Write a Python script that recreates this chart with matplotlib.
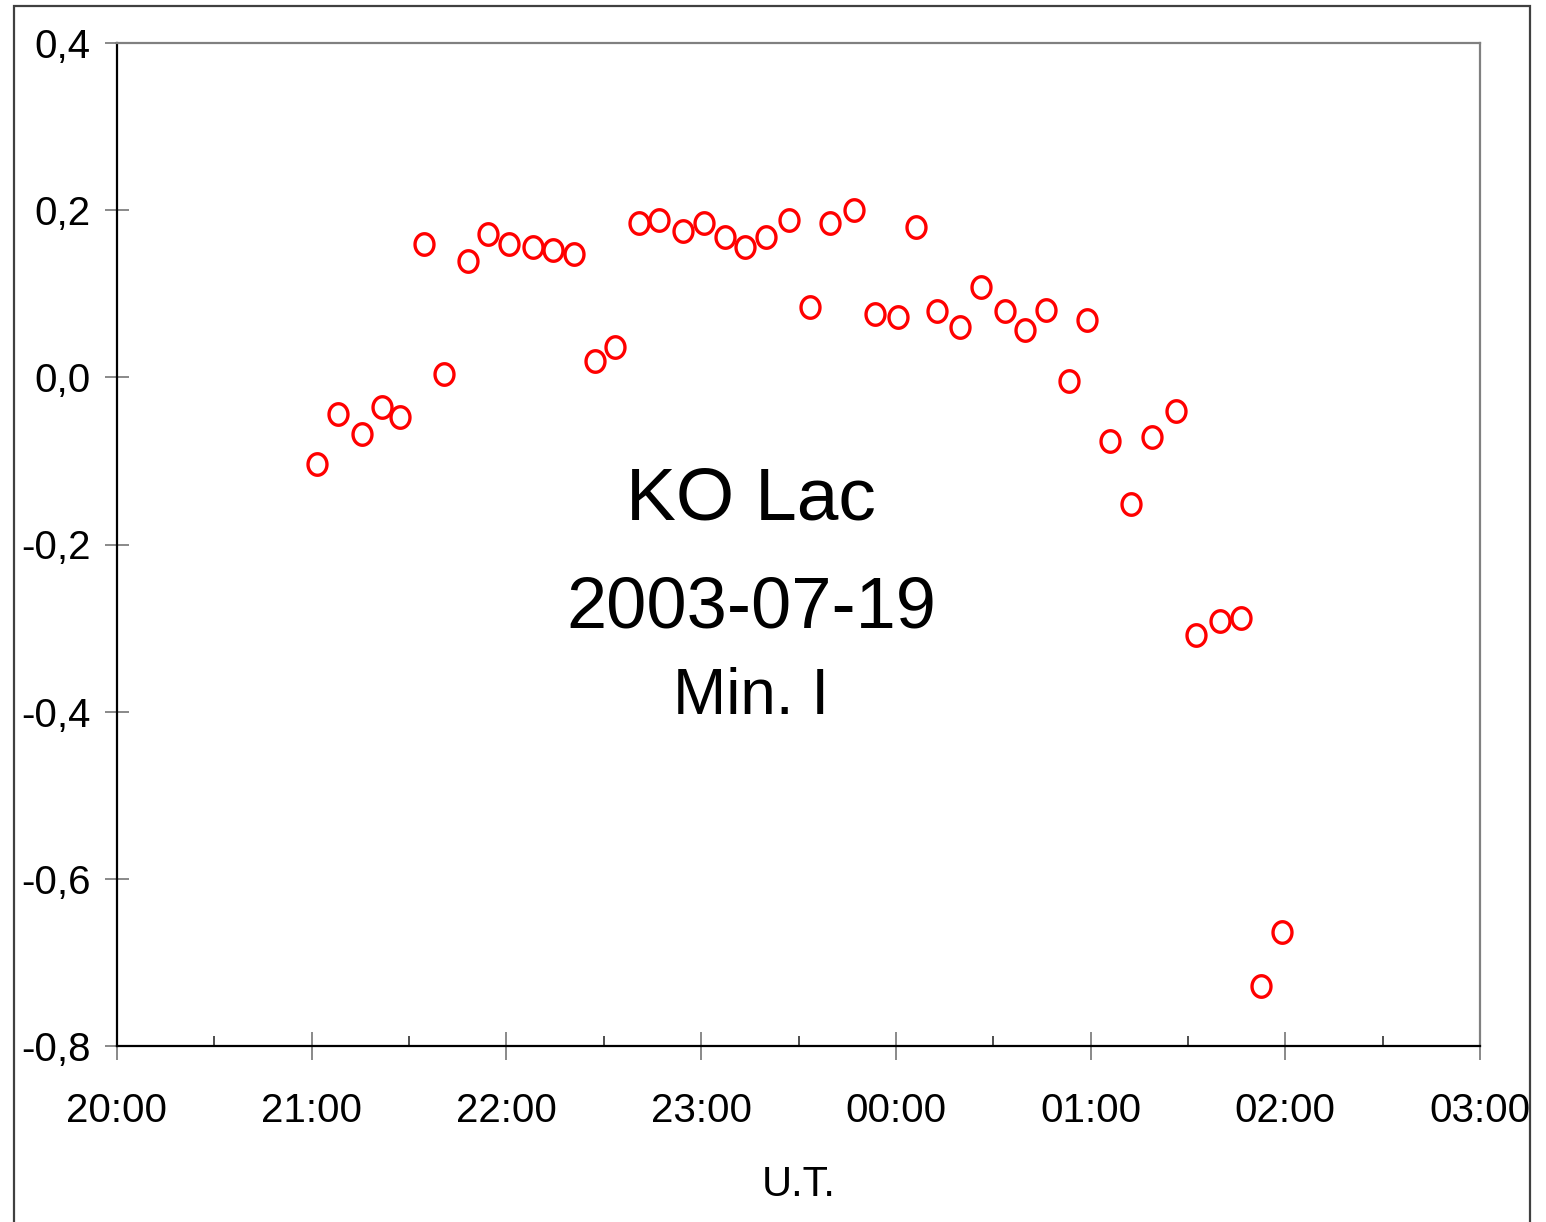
import matplotlib
matplotlib.use("Agg")
import matplotlib.pyplot as plt
import numpy as np
from matplotlib.path import Path
from matplotlib.patches import Rectangle
from matplotlib.ticker import MultipleLocator, FuncFormatter

# ---- data (minutes after 20:00 UT, magnitude difference) ----
minutes = [61.6, 68.1, 75.5, 81.7, 87.2, 94.6, 100.8, 108.2, 114.4, 120.8,
           128.2, 134.3, 140.8, 147.3, 153.5, 160.9, 167.0, 174.4, 180.9, 187.4,
           193.5, 200.0, 207.1, 213.5, 219.7, 227.1, 233.6, 240.7, 246.2, 252.7,
           259.8, 266.3, 273.7, 279.8, 286.3, 293.4, 298.9, 306.0, 312.5, 319.0,
           326.3, 332.5, 339.9, 346.4, 352.6, 359.0]
delta_mag = [-0.104, -0.044, -0.068, -0.036, -0.048, 0.160, 0.004, 0.139, 0.171, 0.160,
             0.156, 0.152, 0.148, 0.020, 0.036, 0.185, 0.188, 0.175, 0.185, 0.168,
             0.156, 0.168, 0.188, 0.084, 0.185, 0.200, 0.076, 0.072, 0.180, 0.079,
             0.060, 0.108, 0.079, 0.057, 0.080, -0.004, 0.069, -0.076, -0.152, -0.071,
             -0.040, -0.308, -0.292, -0.288, -0.728, -0.664]

y_ticks = [0.4, 0.2, 0.0, -0.2, -0.4, -0.6, -0.8]
y_tick_labels = ["0,4", "0,2", "0,0", "-0,2", "-0,4", "-0,6", "-0,8"]
x_label = "U.T."
title_lines = ["KO Lac", "2003-07-19", "Min. I"]

FONT = "Liberation Sans"
plt.rcParams['font.family'] = [FONT, 'DejaVu Sans']

W, H = 1546, 1222
fig = plt.figure(figsize=(W / 100, H / 100), dpi=100)
fig.patch.set_facecolor("white")

# outer frame
fig.patches.append(Rectangle((14 / W, -0.05), (1530 - 14) / W, 1 - 6 / H + 0.05,
                             transform=fig.transFigure, fill=False,
                             edgecolor="#404040", linewidth=1.6, zorder=0))

ax = fig.add_axes([117 / W, 1 - 1046 / H, (1480 - 117) / W, (1046 - 43) / H])

# elliptical marker (slightly taller than wide)
t = np.linspace(0, 2 * np.pi, 60)
ell = Path(np.column_stack([0.88 * np.cos(t), np.sin(t)]), closed=True)

ax.plot(minutes, delta_mag, linestyle="none", marker=ell, markersize=15.5,
        markerfacecolor="none", markeredgecolor="#ff0000", markeredgewidth=2.4)

ax.set_xlim(0, 420)
ax.set_ylim(-0.8, 0.4)

ax.xaxis.set_major_locator(MultipleLocator(60))
ax.xaxis.set_minor_locator(MultipleLocator(30))
ax.xaxis.set_major_formatter(FuncFormatter(
    lambda v, p: "%02d:00" % ((20 + int(round(v / 60))) % 24)))
ax.set_yticks(y_ticks)
ax.set_yticklabels(y_tick_labels)

ax.tick_params(axis="y", which="major", direction="inout", length=17, width=1.3,
               color="#808080", labelsize=29, pad=10.5)
ax.tick_params(axis="x", which="major", direction="inout", length=19.5, width=1.3,
               color="#808080", labelsize=29, pad=23.5)
ax.tick_params(axis="x", which="minor", direction="in", length=7.5, width=1.3,
               color="#404040")

for side in ["left", "bottom"]:
    ax.spines[side].set_color("black")
    ax.spines[side].set_linewidth(1.6)
for side in ["top", "right"]:
    ax.spines[side].set_color("#808080")
    ax.spines[side].set_linewidth(1.6)

ax.set_xlabel(x_label, fontsize=30, labelpad=25)

# centered annotation text
cx = (751 - 117) / (1480 - 117)
ax.text(cx, (1046 - 520) / (1046 - 43), title_lines[0], transform=ax.transAxes,
        ha="center", va="baseline", fontsize=54)
ax.text(cx, (1046 - 628) / (1046 - 43), title_lines[1], transform=ax.transAxes,
        ha="center", va="baseline", fontsize=52)
ax.text(cx, (1046 - 714) / (1046 - 43), title_lines[2], transform=ax.transAxes,
        ha="center", va="baseline", fontsize=46)

fig.savefig("out.png", dpi=100, facecolor="white")
